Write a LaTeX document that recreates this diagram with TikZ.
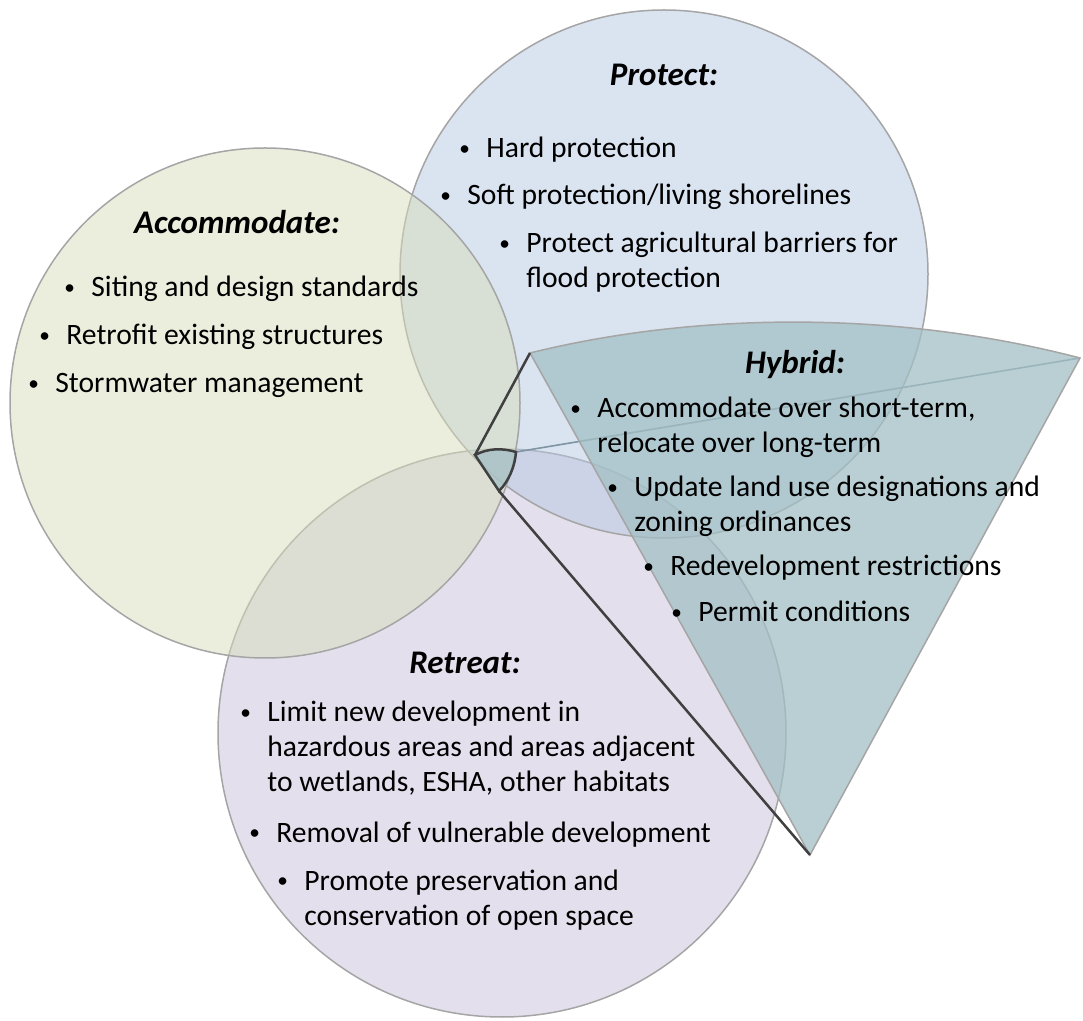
\documentclass[tikz,border=0pt]{standalone}
\usepackage{fontspec}
\setmainfont{Carlito}
\usepackage{xcolor}
\usepackage{graphicx}

\definecolor{protectblue}{HTML}{B5C7E1}
\definecolor{accomgreen}{HTML}{D7DDBB}
\definecolor{retreatlilac}{HTML}{C9BFD9}
\definecolor{hybridteal}{HTML}{A3BFC4}
\definecolor{ringgray}{HTML}{A5A5A5}
\definecolor{edgedark}{HTML}{404040}
\definecolor{edgelight}{HTML}{7F95A3}

% bullet with hanging lines
\newcommand{\bul}[1]{\makebox[13.5pt][l]{\raisebox{0.15ex}{\scalebox{0.72}{\textbullet}}}\parbox[t]{9cm}{\raggedright #1}}

\begin{document}
\begin{tikzpicture}[x=0.5pt, y=0.5pt, yscale=-1,
    zone/.style={draw=ringgray, line width=0.75pt, fill opacity=0.5},
    title/.style={font=\fontsize{16.5}{19}\selectfont\bfseries\itshape, anchor=base, inner sep=0pt},
    item/.style={font=\fontsize{14.8}{17.5}\selectfont, anchor=base west, inner sep=0pt},
    darkline/.style={draw=edgedark, line width=1.25pt},
    lightline/.style={draw=edgelight, line width=0.8pt}]
        \useasboundingbox (0,0) rectangle (1083,1021);
        % circles
        \draw [zone, fill=retreatlilac] (502,733) circle [radius=284];
        \draw [zone, fill=protectblue] (664,274) circle [radius=264];
        \draw [zone, fill=accomgreen] (265,403) circle [radius=255];
        % centre piece and its enlargement
        \coordinate (midA) at (475,455);
        \coordinate (midB) at (516,452);
        \coordinate (midC) at (499,491);
        \coordinate (hybA) at (530,353);
        \coordinate (hybB) at (1080,358);
        \coordinate (hybC) at (810,855);
        \draw [lightline] (midB) -- (hybB);
        \draw [draw=ringgray, line width=0.75pt, fill=hybridteal, fill opacity=0.75]
            (hybA) .. controls (700,311) and (900,311) .. (hybB) -- (hybC) -- cycle;
        \draw [darkline, fill=hybridteal, fill opacity=0.75]
            (midA) .. controls (488,448) and (503,448) .. (midB)
            .. controls (515,466) and (509,481) .. (midC) -- cycle;
        \draw [darkline] (midA) -- (hybA);
        \draw [darkline] (midC) -- (hybC);

        % Protect
        \node [title] (protect) at (664,86) {Protect:};
        \node [item] (hard) at (459,158) {\bul{Hard protection}};
        \node [item] (soft) at (440,205) {\bul{Soft protection/living shorelines}};
        \node [item] (agri) at (499,253) {\bul{Protect agricultural barriers for\\flood protection}};
        % Accommodate
        \node [title] (accom) at (237,234) {Accommodate:};
        \node [item] (siting) at (64,297) {\bul{Siting and design standards}};
        \node [item] (retro) at (39,345) {\bul{Retrofit existing structures}};
        \node [item] (storm) at (28,393) {\bul{Stormwater management}};
        % Hybrid
        \node [title] (hybrid) at (795,374) {Hybrid:};
        \node [item] (short) at (570,418) {\bul{Accommodate over short-term,\\relocate over long-term}};
        \node [item] (landuse) at (607,497) {\bul{Update land use designations and\\zoning ordinances}};
        \node [item] (redev) at (643,576) {\bul{Redevelopment restrictions}};
        \node [item] (permit) at (671,622) {\bul{Permit conditions}};
        % Retreat
        \node [title] (retreat) at (465,674) {Retreat:};
        \node [item] (limit) at (240,722) {\bul{Limit new development in\\hazardous areas and areas adjacent\\to wetlands, ESHA, other habitats}};
        \node [item] (removal) at (249,842) {\bul{Removal of vulnerable development}};
        \node [item] (promote) at (277,890) {\bul{Promote preservation and\\conservation of open space}};
\end{tikzpicture}
\end{document}
